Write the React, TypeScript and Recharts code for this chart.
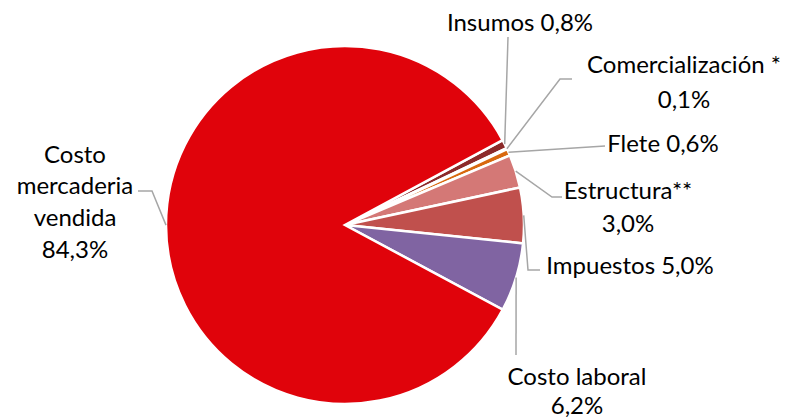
import React from 'react';
import { PieChart, Pie, Cell } from 'recharts';

const categories = ['Insumos', 'Comercialización *', 'Flete', 'Estructura**', 'Impuestos', 'Costo laboral', 'Costo mercaderia vendida'];
const shares = [0.8, 0.1, 0.6, 3.0, 5.0, 6.2, 84.3];
const valueLabels = ['0,8%', '0,1%', '0,6%', '3,0%', '5,0%', '6,2%', '84,3%'];
const colors = ['#8C2A2A', '#E7A0A0', '#D8680E', '#D47876', '#C0504D', '#8064A2', '#E0030B'];

// label text lines and leader-line routing (elbow / end) per category
const labelLines: string[][] = [
  ['Insumos 0,8%'],
  ['Comercialización *', '0,1%'],
  ['Flete 0,6%'],
  ['Estructura**', '3,0%'],
  ['Impuestos 5,0%'],
  ['Costo laboral', '6,2%'],
  ['Costo', 'mercaderia', 'vendida', '84,3%'],
];
const labelAnchor: [number, number][] = [
  [520, 21], [684, 63], [663, 142], [628, 189], [630, 264], [577, 375], [75, 153],
];
const labelLineHeight = [32, 35, 32, 33, 32, 29, 31.7];
const leaderPath: [number, number][][] = [
  [[508, 37]],
  [[560, 79], [572, 79]],
  [[605, 146]],
  [[552, 197], [562, 197]],
  [[528, 270], [540, 270]],
  [[516, 355]],
  [[152, 191], [138, 191]],
];

const data = categories.map((name, i) => ({ name, value: shares[i] }));

const FONT = 'Lato, "Open Sans", sans-serif';

const RADIAN = Math.PI / 180;

const renderLabel = (props: any) => {
  const { cx, cy, midAngle, outerRadius, index } = props;
  const i = typeof index === 'number' ? index : categories.indexOf(props.name);
  const sx = cx + outerRadius * Math.cos(-midAngle * RADIAN);
  const sy = cy + outerRadius * Math.sin(-midAngle * RADIAN);
  const pts = [[sx, sy], ...leaderPath[i]].map((p) => p.join(',')).join(' ');
  const [ax, ay] = labelAnchor[i];
  const lines = labelLines[i];
  const lh = labelLineHeight[i];
  return (
    <g key={`lbl-${i}`}>
      <polyline points={pts} fill="none" stroke="#A6A6A6" strokeWidth={1.5} />
      <text x={ax} y={ay} textAnchor="middle" fontFamily={FONT} fontSize={24} fill="#000">
        {lines.map((t, k) => (
          <tspan key={k} x={ax} y={ay + k * lh} dominantBaseline="central">{t}</tspan>
        ))}
      </text>
    </g>
  );
};

export default function App() {
  const start = 28.3;
  return (
    <div style={{ position: 'absolute', left: 0, top: 0, width: 787, height: 417, background: '#fff' }}>
      <PieChart width={787} height={417} margin={{ top: 0, right: 0, bottom: 0, left: 0 }}>
        <Pie
          data={data}
          dataKey="value"
          nameKey="name"
          cx={345}
          cy={225}
          outerRadius={179}
          startAngle={start}
          endAngle={start - 360}
          stroke="#FFFFFF"
          strokeWidth={2.5}
          label={renderLabel}
          labelLine={false}
          isAnimationActive={false}
        >
          {data.map((d, i) => (
            <Cell key={d.name} fill={colors[i]} />
          ))}
        </Pie>
      </PieChart>
    </div>
  );
}
